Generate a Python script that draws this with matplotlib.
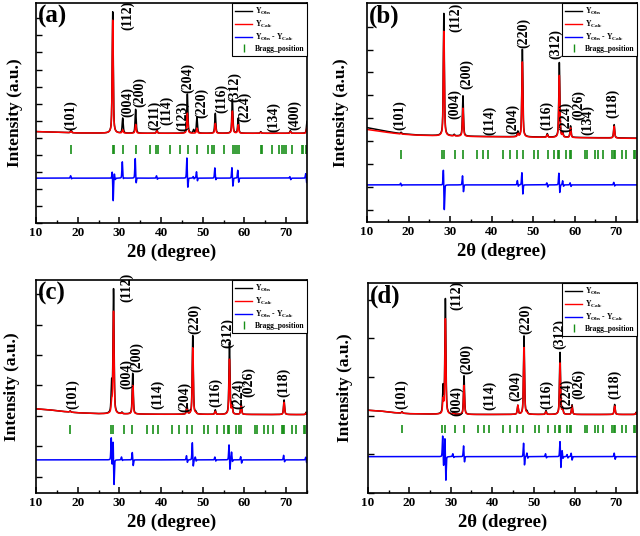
import numpy as np
import matplotlib
matplotlib.use('Agg')
import matplotlib.pyplot as plt
from matplotlib.lines import Line2D
from matplotlib.ticker import MultipleLocator

plt.rcParams['font.family'] = ['Liberation Serif', 'DejaVu Serif']
plt.rcParams['font.weight'] = 'bold'
plt.rcParams['mathtext.fontset'] = 'custom'
plt.rcParams['mathtext.rm'] = 'Liberation Serif:bold'
plt.rcParams['mathtext.bf'] = 'Liberation Serif:bold'
plt.rcParams['mathtext.it'] = 'Liberation Serif:bold:italic'

# ---------------- data ----------------
# Panel (a)
A_PEAK_POS = [18.4, 28.4, 30.8, 33.9, 39.0, 46.3, 47.8, 48.6, 53.0, 57.1, 58.5, 63.9, 71.0, 75.0]
A_OBS_H = [0.16, 7.12, 0.88, 1.40, 0.20, 2.30, 0.20, 0.94, 1.17, 2.00, 0.88, 0.10, 0.15, 0.70]
A_CALC_H = [0.10, 6.63, 0.20, 0.52, 0.15, 1.18, 0.00, 0.30, 0.58, 1.30, 0.50, 0.06, 0.10, 0.36]
A_BG_X = [10, 15, 20, 30, 75]
A_BG_Y = [5.36, 5.32, 5.28, 5.26, 5.26]
A_BRAGG = [18.4, 28.4, 28.6, 30.8, 34.0, 37.3, 38.85, 39.15, 42.2, 44.6, 46.4, 48.5, 51.3,
           52.1, 52.8, 55.1, 57.3, 57.7, 58.3, 58.8, 63.9, 64.1, 66.5, 68.3, 68.9, 69.5,
           69.95, 71.3, 73.7, 74.1, 74.7]
A_DIFF_POS = [18.4, 28.4, 28.9, 30.8, 33.9, 39.0, 46.3, 47.8, 48.6, 53.0, 57.1, 58.5, 71.0, 74.8]
A_DIFF_UP = [0.15, 0.50, 0.30, 0.97, 1.20, 0.15, 1.27, 0.10, 0.40, 0.62, 0.68, 0.50, 0.10, 0.30]
A_DIFF_DN = [0.05, 1.40, 0.10, 0.10, 0.40, 0.08, 0.68, 0.05, 0.20, 0.15, 0.55, 0.30, 0.10, 0.30]
A_LABELS = ['(101)', '(112)', '(004)', '(200)', '(211)', '(114)', '(123)', '(204)', '(220)',
            '(116)', '(312)', '(224)', '(134)', '(400)']
A_LAB_X = [18.4, 32.0, 32.0, 34.8, 38.5, 41.3, 45.1, 46.3, 49.7, 54.5, 57.7, 60.1, 66.9, 72.1]
A_LAB_Y = [5.46, 11.3, 6.24, 6.82, 5.46, 5.75, 5.40, 7.60, 6.18, 6.43, 7.11, 5.95, 5.36, 5.46]

# Panel (b)
B_PEAK_POS = [18.2, 28.5, 31.0, 33.1, 46.3, 47.4, 53.4, 56.3, 57.1, 59.0, 69.5]
B_OBS_H = [0.06, 5.34, 0.06, 1.76, 0.22, 3.82, 0.15, 3.26, 0.20, 0.50, 0.58]
B_CALC_H = [0.04, 4.57, 0.04, 1.23, 0.15, 3.28, 0.12, 2.71, 0.15, 0.42, 0.52]
B_BG_X = [10, 12, 15, 18, 22, 27, 35, 50, 75]
B_BG_Y = [4.12, 4.05, 3.95, 3.86, 3.80, 3.77, 3.74, 3.71, 3.66]
B_BGC_Y = [4.04, 3.99, 3.91, 3.84, 3.79, 3.76, 3.73, 3.70, 3.65]
KES_BRAGG = [18.2, 28.0, 28.5, 31.1, 33.1, 36.6, 38.0, 39.2, 42.7, 44.4, 46.1, 47.5, 50.3,
             51.2, 53.5, 55.1, 56.1, 56.3, 58.0, 58.8, 59.05, 62.5, 63.0, 64.8, 65.6, 66.8,
             69.0, 69.35, 69.6, 71.45, 72.4, 74.35, 74.6]
B_DIFF_POS = [18.2, 28.5, 33.1, 46.3, 47.4, 53.4, 56.3, 57.2, 59.0, 69.5]
B_DIFF_UP = [0.08, 0.78, 0.44, 0.20, 0.59, 0.10, 0.56, 0.19, 0.10, 0.12]
B_DIFF_DN = [0.05, 1.18, 0.35, 0.08, 0.47, 0.10, 0.40, 0.08, 0.08, 0.06]
BCD_LABELS = ['(101)', '(112)', '(004)', '(200)', '(114)', '(204)', '(220)', '(116)', '(312)',
              '(224)', '(026)']
B_LABELS = BCD_LABELS + ['(134)', '(118)']
B_LAB_X = [17.9, 31.3, 31.1, 33.9, 39.6, 45.0, 47.65, 53.3, 55.4, 57.8, 61.0, 63.0, 69.2]
B_LAB_Y = [4.0, 8.3, 4.5, 5.8, 3.8, 3.84, 7.6, 4.0, 7.1, 3.94, 4.46, 3.79, 4.53]

# Panel (c)
C_PEAK_POS = [18.2, 28.15, 28.6, 30.6, 33.2, 46.2, 47.6, 48.3, 53.0, 56.4, 57.0, 59.2, 69.5, 74.8]
C_OBS_H = [0.04, 0.94, 4.07, 0.05, 1.34, 0.29, 2.59, 0.06, 0.15, 2.36, 0.35, 0.35, 0.48, 0.08]
C_CALC_H = [0.03, 0.35, 3.36, 0.04, 0.94, 0.22, 2.19, 0.03, 0.10, 1.81, 0.25, 0.30, 0.40, 0.06]
C_BG_X = [10, 13, 16, 20, 25, 30, 40, 75]
C_BG_Y = [2.77, 2.74, 2.69, 2.64, 2.61, 2.60, 2.59, 2.58]
C_DIFF_POS = [28.15, 28.6, 30.6, 33.2, 46.2, 47.6, 48.3, 53.0, 56.4, 57.0, 59.2, 69.5, 74.8]
C_DIFF_UP = [0.76, 0.70, 0.10, 0.27, 0.15, 0.60, 0.10, 0.10, 0.54, 0.27, 0.12, 0.16, 0.10]
C_DIFF_DN = [0.27, 0.90, 0.03, 0.22, 0.10, 0.27, 0.05, 0.05, 0.38, 0.08, 0.12, 0.08, 0.10]
C_LABELS = BCD_LABELS + ['(118)']
C_LAB_X = [18.9, 31.7, 31.7, 34.1, 39.1, 45.7, 48.1, 53.1, 55.9, 58.7, 61.0, 69.3]
C_LAB_Y = [2.77, 6.3, 3.42, 3.97, 2.77, 2.66, 5.22, 2.83, 4.78, 2.77, 3.15, 3.15]

# Panel (d)
D_PEAK_POS = [18.2, 28.15, 28.7, 30.7, 33.2, 46.2, 47.7, 48.4, 53.0, 56.4, 57.0, 59.3, 69.6, 74.8]
D_OBS_H = [0.04, 0.68, 2.97, 0.06, 1.00, 0.23, 2.03, 0.06, 0.10, 1.60, 0.15, 0.25, 0.26, 0.06]
D_CALC_H = [0.03, 0.35, 2.46, 0.04, 0.75, 0.23, 1.73, 0.03, 0.07, 1.33, 0.12, 0.22, 0.22, 0.05]
D_BG_X = [10, 13, 16, 20, 25, 30, 40, 75]
D_BG_Y = [2.14, 2.12, 2.08, 2.05, 2.04, 2.03, 2.03, 2.03]
D_DIFF_POS = [28.15, 28.7, 30.6, 33.2, 47.7, 48.5, 53.0, 56.5, 57.0, 58.2, 59.2, 69.6]
D_DIFF_UP = [0.57, 0.55, 0.08, 0.30, 0.38, 0.10, 0.08, 0.43, 0.17, 0.06, 0.10, 0.10]
D_DIFF_DN = [0.30, 0.68, 0.03, 0.17, 0.26, 0.05, 0.04, 0.34, 0.06, 0.04, 0.10, 0.08]
D_LABELS = BCD_LABELS + ['(118)']
D_LAB_X = [18.05, 31.5, 31.5, 33.9, 39.5, 45.6, 48.2, 53.2, 56.3, 58.1, 60.9, 69.7]
D_LAB_Y = [2.18, 4.74, 2.0, 3.08, 2.14, 2.39, 4.1, 2.18, 3.72, 2.18, 2.44, 2.44]

PANELS = ['(a)', '(b)', '(c)', '(d)']
X_TICKS = [10, 20, 30, 40, 50, 60, 70]

GREEN = '#188f18'

# ---------------- helpers ----------------
X = np.arange(10.0, 75.0001, 0.01)


def pv(x, c, w, eta=0.55):
    d = (x - c) / w
    return eta / (1 + 4 * d * d) + (1 - eta) * np.exp(-4 * np.log(2) * d * d)


def profile(bgx, bgy, pos, h, w=0.3):
    y = np.interp(X, bgx, bgy)
    for p, a in zip(pos, h):
        y = y + a * pv(X, p, w)
    return y


def diff_curve(base, pos, up, dn, w=0.22, d=0.1):
    y = np.full_like(X, base)
    for p, a, b in zip(pos, up, dn):
        y = y + a * pv(X, p - d, w, 0.3) - b * pv(X, p + d, w, 0.3)
    return y


W, H = 640, 536
fig = plt.figure(figsize=(6.4, 5.36), dpi=100)


def add_axes(l, t, r, b):
    return fig.add_axes([l / W, 1 - b / H, (r - l) / W, (b - t) / H])


cfg = [
    dict(box=(36, 3, 307, 223), ylim=12.9, yt=np.arange(0, 13, 1.0), pos=A_PEAK_POS,
         obs=A_OBS_H, calc=A_CALC_H, bgx=A_BG_X, bgy=A_BG_Y, bgcy=A_BG_Y, bragg=A_BRAGG,
         by=(4.03, 4.58), dbase=2.63, dpos=A_DIFF_POS, dup=A_DIFF_UP, ddn=A_DIFF_DN,
         labs=A_LABELS, lx=A_LAB_X, ly=A_LAB_Y, ylx=15),
    dict(box=(367, 3, 637, 222), ylim=9.56, yt=0.53 + np.arange(0, 9), pos=B_PEAK_POS,
         obs=B_OBS_H, calc=B_CALC_H, bgx=B_BG_X, bgy=B_BG_Y, bgcy=B_BGC_Y, bragg=KES_BRAGG,
         by=(2.74, 3.13), dbase=1.62, dpos=B_DIFF_POS, dup=B_DIFF_UP, ddn=B_DIFF_DN,
         labs=B_LABELS, lx=B_LAB_X, ly=B_LAB_Y, ylx=341),
    dict(box=(36, 280, 307, 493), ylim=7.01, yt=0.54 + np.arange(0, 7), pos=C_PEAK_POS,
         obs=C_OBS_H, calc=C_CALC_H, bgx=C_BG_X, bgy=C_BG_Y, bgcy=C_BG_Y, bragg=KES_BRAGG,
         by=(1.93, 2.23), dbase=1.09, dpos=C_DIFF_POS, dup=C_DIFF_UP, ddn=C_DIFF_DN,
         labs=C_LABELS, lx=C_LAB_X, ly=C_LAB_Y, ylx=12),
    dict(box=(368, 283, 637, 493), ylim=5.43, yt=np.arange(0, 6, 1.0), pos=D_PEAK_POS,
         obs=D_OBS_H, calc=D_CALC_H, bgx=D_BG_X, bgy=D_BG_Y, bgcy=D_BG_Y, bragg=KES_BRAGG,
         by=(1.54, 1.77), dbase=0.94, dpos=D_DIFF_POS, dup=D_DIFF_UP, ddn=D_DIFF_DN,
         labs=D_LABELS, lx=D_LAB_X, ly=D_LAB_Y, ylx=345),
]

for name, c in zip(PANELS, cfg):
    ax = add_axes(*c['box'])
    yo = profile(c['bgx'], c['bgy'], c['pos'], c['obs'])
    yc = profile(c['bgx'], c['bgcy'], c['pos'], c['calc'])
    yd = diff_curve(c['dbase'], c['dpos'], c['dup'], c['ddn'])
    ax.plot(X, yo, color='black', lw=1.1)
    ax.plot(X, yc, color='red', lw=1.1)
    ax.plot(X, yd, color='blue', lw=1.1)
    ax.vlines(c['bragg'], c['by'][0], c['by'][1], color=GREEN, lw=1.2)
    for t, x, y in zip(c['labs'], c['lx'], c['ly']):
        ax.text(x, y, t, rotation=90, ha='center', va='bottom', fontsize=10,
                fontweight='bold', clip_on=False)
    ax.set_xlim(10, 75)
    ax.set_ylim(0, c['ylim'])
    ax.set_xticks(X_TICKS)
    ax.xaxis.set_minor_locator(MultipleLocator(5))
    ax.set_yticks(c['yt'])
    ax.set_yticklabels([])
    ax.tick_params(axis='x', which='major', direction='in', length=4, width=1.1,
                   labelsize=9.5, pad=3)
    ax.tick_params(axis='x', which='minor', direction='in', length=2.5, width=1.0)
    ax.tick_params(axis='y', which='major', direction='in', length=4, width=1.0)
    for s in ax.spines.values():
        s.set_linewidth(1.2)
    for lab in ax.get_xticklabels():
        lab.set_fontweight('bold')
    ax.set_xlabel('2\u03b8 (degree)', fontsize=13.5, fontweight='bold', labelpad=3)
    ax.set_ylabel('Intensity (a.u.)', fontsize=12.5, fontweight='bold',
                  va='center', ha='center')
    x0, y0, x1, y1 = c['box']
    ax.yaxis.set_label_coords((c['ylx'] - x0) / (x1 - x0), 0.5)
    ax.text(0.006, 0.992, name, transform=ax.transAxes, ha='left', va='top',
            fontsize=18, fontweight='bold')
    handles = [Line2D([], [], color='black', lw=1.0),
               Line2D([], [], color='red', lw=1.0),
               Line2D([], [], color='blue', lw=1.0),
               Line2D([], [], color=GREEN, marker='|', ls='None', markersize=6, mew=1.0)]
    labels = [r'$\mathrm{Y_{Obs}}$', r'$\mathrm{Y_{Calc}}$',
              r'$\mathrm{Y_{Obs}}$ - $\mathrm{Y_{Calc}}$', 'Bragg_position']
    leg = ax.legend(handles, labels, loc='upper right', borderaxespad=0.0, fontsize=5.5,
                    frameon=True, fancybox=False, framealpha=1.0, edgecolor='black',
                    handlelength=2.3, handletextpad=0.3, labelspacing=0.25, borderpad=0.35)
    leg.get_frame().set_linewidth(0.8)

fig.savefig('out.png', dpi=100)
